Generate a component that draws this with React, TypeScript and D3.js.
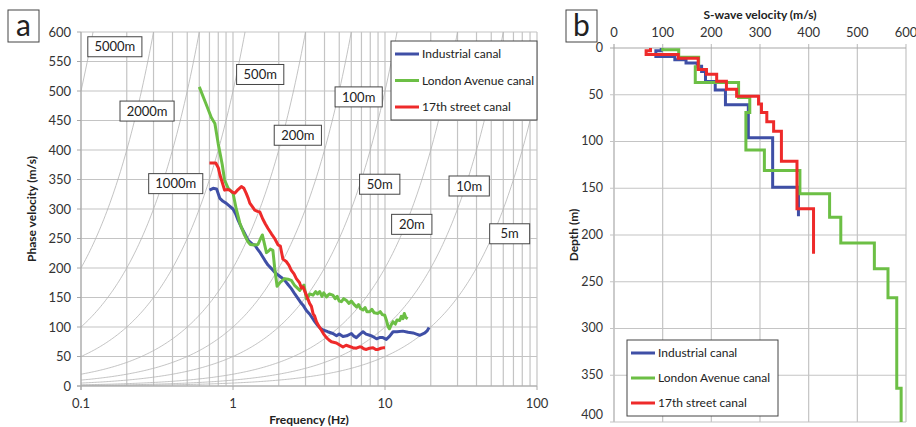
import React from "react";
import * as d3 from "d3";

const width = 916;
const height = 427;
const font = "Lato, 'Open Sans', sans-serif";
const blue = "#3f4fa6";
const green = "#6cbf45";
const red = "#ee2a2a";
const grid = "#c4c4c4";

// panel a: dispersion curves, [frequency Hz, phase velocity m/s]
const industrialCurve: [number, number][] = [
  [0.70, 332], [0.74, 335], [0.78, 334], [0.82, 318], [0.86, 313], [0.90, 310], [0.95, 305],
  [1.0, 300], [1.04, 292], [1.08, 281], [1.13, 270], [1.19, 259], [1.25, 248], [1.29, 244],
  [1.35, 240], [1.39, 239], [1.45, 232], [1.5, 227], [1.56, 220], [1.62, 213], [1.7, 205],
  [1.79, 199], [1.88, 193], [1.98, 188], [2.08, 184], [2.19, 179], [2.3, 172], [2.42, 165],
  [2.55, 156], [2.68, 148], [2.78, 142], [2.89, 137], [3.04, 128], [3.19, 122], [3.35, 114],
  [3.45, 109], [3.6, 103], [3.75, 98], [3.91, 95], [4.2, 92], [4.54, 89], [4.8, 85], [5.0, 88],
  [5.29, 84], [5.6, 85], [6.01, 89], [6.2, 85], [6.48, 82], [6.8, 87], [7.17, 92], [7.5, 88],
  [7.93, 86], [8.3, 84], [8.8, 80], [9.2, 82], [9.69, 82], [10.2, 79], [10.7, 84], [11.3, 92],
  [12.0, 92], [13.1, 93], [14.2, 91], [15.3, 90], [16.1, 88], [16.9, 86], [17.6, 88],
  [18.3, 90], [19.0, 94], [19.5, 99]
];
const londonCurve: [number, number][] = [
  [0.60, 507], [0.66, 480], [0.72, 455], [0.76, 445], [0.80, 410], [0.85, 375], [0.88, 349],
  [0.93, 335], [1.0, 327], [1.05, 300], [1.11, 276], [1.18, 258], [1.25, 245], [1.30, 240],
  [1.38, 239], [1.46, 240], [1.52, 250], [1.56, 256], [1.62, 238], [1.66, 226], [1.72, 229],
  [1.76, 232], [1.83, 230], [1.88, 200], [1.95, 169], [2.05, 176], [2.19, 182], [2.3, 181],
  [2.42, 179], [2.55, 170], [2.75, 162], [2.85, 168], [2.93, 171], [3.04, 148], [3.1, 150],
  [3.2, 156], [3.36, 154], [3.5, 160], [3.6, 156], [3.72, 160], [3.85, 152], [3.95, 158],
  [4.12, 151], [4.3, 156], [4.54, 154], [4.7, 148], [4.85, 152], [5.0, 144], [5.17, 143],
  [5.35, 148], [5.58, 145], [5.8, 140], [6.0, 144], [6.32, 137], [6.5, 134], [6.7, 138],
  [6.9, 131], [7.17, 129], [7.4, 133], [7.6, 126], [7.93, 126], [8.2, 130], [8.5, 124],
  [8.99, 123], [9.3, 126], [9.6, 121], [9.96, 120], [10.2, 112], [10.5, 100], [10.7, 97],
  [11.0, 104], [11.3, 109], [11.7, 105], [12.0, 112], [12.5, 111], [12.8, 118], [13.1, 114],
  [13.4, 123], [13.7, 116], [14.1, 114]
];
const street17Curve: [number, number][] = [
  [0.70, 378], [0.77, 378], [0.80, 370], [0.82, 358], [0.85, 345], [0.88, 332], [0.92, 333],
  [0.95, 332], [1.0, 328], [1.03, 327], [1.08, 333], [1.135, 338], [1.18, 335], [1.22, 327],
  [1.26, 318], [1.29, 310], [1.34, 304], [1.39, 298], [1.45, 296], [1.5, 295], [1.57, 283],
  [1.63, 275], [1.7, 267], [1.79, 258], [1.88, 250], [1.98, 239], [2.05, 237], [2.13, 215],
  [2.24, 211], [2.33, 205], [2.42, 196], [2.52, 190], [2.61, 182], [2.74, 175], [2.82, 166],
  [2.89, 168], [3.04, 154], [3.19, 140], [3.28, 135], [3.36, 123], [3.45, 118], [3.54, 109],
  [3.68, 101], [3.81, 95], [3.95, 88], [4.12, 82], [4.28, 78], [4.44, 75], [4.79, 73],
  [5.0, 70], [5.29, 66], [5.55, 69], [5.85, 67], [6.15, 65], [6.48, 64], [6.75, 66], [7.0, 66],
  [7.25, 63], [7.54, 62], [7.9, 64], [8.34, 65], [8.7, 62], [9.0, 62], [9.4, 64], [9.84, 65],
  [10.0, 65]
];

// constant wavelength reference lines (m)
const wavelengths = [5000, 2000, 1000, 500, 200, 100, 50, 20, 10, 5];
// label boxes for them: [text, frequency, velocity] of the box centre
const wavelengthLabels: [string, number, number][] = [
  ["5000m", 0.167, 575], ["2000m", 0.272, 466], ["1000m", 0.42, 343], ["500m", 1.51, 528],
  ["200m", 2.67, 425], ["100m", 6.71, 490], ["50m", 9.23, 342], ["20m", 15.0, 274],
  ["10m", 35.8, 339], ["5m", 66.1, 258]
];

// panel b: layered Vs profiles, layer boundaries (m) and layer velocities (m/s)
const industrialDepth = [0, 3, 9, 12.5, 16, 19.6, 25, 35.7, 45, 60.7, 96, 149, 180];
const industrialVs = [97, 86, 125, 148, 171, 180, 188, 208, 229, 276, 326, 379];
const londonDepth = [0, 2, 10, 20, 37, 53, 69, 109, 131, 156, 181, 208.5, 236, 267, 364, 400];
const londonVs = [100, 133, 174, 167, 256, 279, 271, 309, 382, 443, 466, 535, 563, 581, 590];
const street17Depth = [0, 3, 7, 11, 23, 28, 35.5, 44, 51.5, 60, 69, 79, 89, 121, 172, 220];
const street17Vs = [75, 66, 132, 173, 190, 211, 231, 252, 297, 303, 314, 328, 344, 376, 410];

const seriesNames = ["Industrial canal", "London Avenue canal", "17th street canal"];
const seriesColors = [blue, green, red];

// scales for panel a
const xA = d3.scaleLog().domain([0.1, 100]).range([81, 537]);
const yA = d3.scaleLinear().domain([0, 600]).range([386, 32]);
// scales for panel b
const xB = d3.scaleLinear().domain([0, 600]).range([614, 906]);
const yB = d3.scaleLinear().domain([0, 400]).range([48, 422]);

const lineA = d3
  .line<[number, number]>()
  .x(d => xA(d[0]))
  .y(d => yA(d[1]));

const lineB = d3
  .line<[number, number]>()
  .x(d => xB(d[0]))
  .y(d => yB(d[1]));

function profilePoints(depths: number[], vs: number[]): [number, number][] {
  const pts: [number, number][] = [];
  vs.forEach((v, i) => {
    pts.push([v, depths[i]]);
    pts.push([v, depths[i + 1]]);
  });
  return pts;
}

function wavelengthLine(lambda: number) {
  const fs = d3.range(-1, 2.0001, 0.01).map(e => Math.pow(10, e));
  return lineA(fs.map(f => [f, lambda * f] as [number, number]));
}

function Legend({ x, y, w, h, gap }: { x: number; y: number; w: number; h: number; gap: number }) {
  return (
    <g transform={`translate(${x},${y})`}>
      <rect width={w} height={h} fill="white" stroke="#444" strokeWidth={1} />
      {seriesNames.map((name, i) => (
        <g key={name} transform={`translate(0,${13 + i * gap})`}>
          <line x1={4} x2={28} stroke={seriesColors[i]} strokeWidth={3} />
          <text x={31} dy="0.35em" fontSize={12} fontFamily={font} fill="#222">
            {name}
          </text>
        </g>
      ))}
    </g>
  );
}

function LetterBox({ x, label }: { x: number; label: string }) {
  return (
    <g>
      <rect x={x} y={10} width={31} height={32} fill="white" stroke="#444" strokeWidth={1} />
      <text x={x + 15.5} y={36} textAnchor="middle" fontSize={30} fontFamily={font} fill="#222">
        {label}
      </text>
    </g>
  );
}

export default function App() {
  const [x0, x1] = xA.range();
  const [y0, y1] = yA.range();
  const bx0 = xB.range()[0];
  const bx1 = xB.range()[1];
  const by0 = yB.range()[0];
  const by1 = yB.range()[1];

  return (
    <svg
      width={width}
      height={height}
      style={{ position: "absolute", left: 0, top: 0, background: "white" }}
    >
      <defs>
        <clipPath id="clipA">
          <rect x={x0} y={y1} width={x1 - x0} height={y0 - y1} />
        </clipPath>
      </defs>

      {/* ---- panel a ---- */}
      <g>
        {xA.ticks().map(t => (
          <line key={"gx" + t} x1={xA(t)} x2={xA(t)} y1={y1} y2={y0} stroke={grid} strokeWidth={1.2} />
        ))}
        {yA.ticks(12).map(t => (
          <line key={"gy" + t} x1={x0} x2={x1} y1={yA(t)} y2={yA(t)} stroke={grid} strokeWidth={1.2} />
        ))}
        <g clipPath="url(#clipA)">
          {wavelengths.map(l => (
            <path key={l} d={wavelengthLine(l) || ""} fill="none" stroke="#b4b4b4" strokeWidth={0.8} />
          ))}
        </g>
        <line x1={x0} x2={x0} y1={y1} y2={y0 + 4} stroke="#a8a8a8" />
        <line x1={x0 - 4} x2={x1} y1={y0} y2={y0} stroke="#a8a8a8" />
        {yA.ticks(12).map(t => (
          <g key={"ty" + t}>
            <line x1={x0 - 4} x2={x0} y1={yA(t)} y2={yA(t)} stroke="#a8a8a8" />
            <text x={x0 - 10} y={yA(t)} dy="0.35em" textAnchor="end" fontSize={13} fontFamily={font} fill="#333">
              {t}
            </text>
          </g>
        ))}
        {[0.1, 1, 10, 100].map(t => (
          <g key={"tx" + t}>
            <line x1={xA(t)} x2={xA(t)} y1={y0} y2={y0 + 4} stroke="#a8a8a8" />
            <text x={xA(t)} y={y0 + 22} textAnchor="middle" fontSize={13} fontFamily={font} fill="#333">
              {t}
            </text>
          </g>
        ))}
        {wavelengthLabels.map(([txt, f, v]) => {
          const w = Math.max(40, 6.9 * (txt.length - 1) + 10.5 + 16);
          return (
            <g key={txt} transform={`translate(${xA(f)},${yA(v)})`}>
              <rect x={-w / 2} y={-10} width={w} height={20} fill="white" stroke="#444" strokeWidth={1} />
              <text textAnchor="middle" dy="0.36em" fontSize={13} fontFamily={font} fill="#222">
                {txt}
              </text>
            </g>
          );
        })}
        {[industrialCurve, londonCurve, street17Curve].map((c, i) => (
          <path key={i} d={lineA(c) || ""} fill="none" stroke={seriesColors[i]} strokeWidth={3} strokeLinejoin="round" />
        ))}
        <Legend x={391} y={41} w={146} h={79} gap={26.5} />
        <text
          transform={`translate(36,${(y0 + y1) / 2}) rotate(-90)`}
          textAnchor="middle"
          fontSize={12}
          fontWeight="bold"
          fontFamily={font}
          fill="#222"
        >
          Phase velocity (m/s)
        </text>
        <text x={(x0 + x1) / 2} y={424} textAnchor="middle" fontSize={12} fontWeight="bold" fontFamily={font} fill="#222">
          Frequency (Hz)
        </text>
        <LetterBox x={8} label="a" />
      </g>

      {/* ---- panel b ---- */}
      <g>
        {xB.ticks(6).map(t => (
          <g key={"bx" + t}>
            <line x1={xB(t)} x2={xB(t)} y1={by0 - 4} y2={by1} stroke={t === 0 ? "#a8a8a8" : grid} strokeWidth={1.2} />
            <text x={xB(t)} y={by0 - 11} textAnchor="middle" fontSize={13} fontFamily={font} fill="#333">
              {t}
            </text>
          </g>
        ))}
        {yB.ticks(8).map(t => (
          <g key={"by" + t}>
            <line x1={bx0 - 4} x2={bx1} y1={yB(t)} y2={yB(t)} stroke={t === 0 ? "#a8a8a8" : grid} strokeWidth={1.2} />
            <text
              x={bx0 - 11}
              y={Math.min(yB(t), 415)}
              dy="0.3em"
              textAnchor="end"
              fontSize={12.5}
              fontFamily={font}
              fill="#333"
            >
              {t}
            </text>
          </g>
        ))}
        {[
          profilePoints(industrialDepth, industrialVs),
          profilePoints(londonDepth, londonVs),
          profilePoints(street17Depth, street17Vs)
        ].map((p, i) => (
          <path key={i} d={lineB(p) || ""} fill="none" stroke={seriesColors[i]} strokeWidth={3} />
        ))}
        <Legend x={627} y={340} w={151} h={76} gap={25} />
        <text x={(bx0 + bx1) / 2} y={19} textAnchor="middle" fontSize={12} fontWeight="bold" fontFamily={font} fill="#222">
          S-wave velocity (m/s)
        </text>
        <text
          transform={`translate(578,${(by0 + by1) / 2}) rotate(-90)`}
          textAnchor="middle"
          fontSize={12}
          fontWeight="bold"
          fontFamily={font}
          fill="#222"
        >
          Depth (m)
        </text>
        <LetterBox x={566} label="b" />
      </g>
    </svg>
  );
}
